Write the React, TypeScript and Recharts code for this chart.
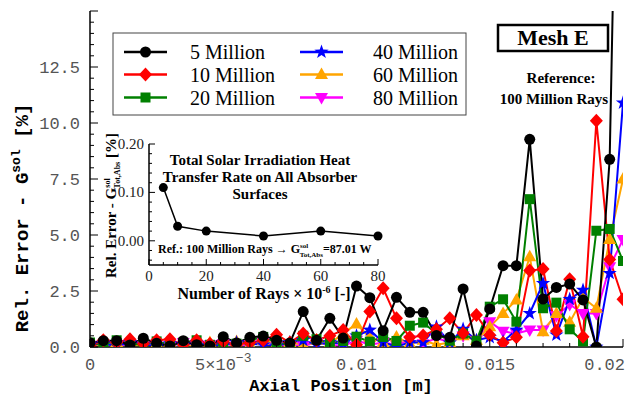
import React from "react";
import { LineChart, Line, XAxis, YAxis } from "recharts";

// axial positions of the sampled cells [m]
const axialPos = [
  0, 0.0005, 0.001, 0.0015, 0.002, 0.0025, 0.003, 0.0035, 0.004, 0.0045,
  0.005, 0.0055, 0.006, 0.0065, 0.007, 0.0075, 0.008, 0.0085, 0.009, 0.0095,
  0.01, 0.0105, 0.011, 0.0115, 0.012, 0.0125, 0.013, 0.0135, 0.014, 0.0145,
  0.015, 0.0155, 0.016, 0.0165, 0.017, 0.0175, 0.018, 0.0185, 0.019, 0.0195,
  0.02,
];

// relative error [%] per ray count
const err5M = [
  0.19, 0.28, 0.28, 0.09, 0.39, 0.17, 0.05, 0.28, 0.1, 0.05,
  0.46, 0.18, 0.43, 0.49, 0.3, 0.18, 1.58, 0.3, 1.28, 0.4,
  2.72, 2.2, 0.73, 2.22, 1.55, 1.55, 0.51, 0.43, 2.59, 0.04,
  1.7, 3.63, 3.63, 9.27, 2.14, 2.66, 2.81, 2.1, 0.0, 8.38,
  38,
];
const err10M = [
  0.05, 0.3, 0.2, 0.35, 0.15, 0.3, 0.35, 0.1, 0.3, 0.15,
  0.25, 0.1, 0.2, 0.3, 0.55, 0.2, 0.6, 0.3, 0.5, 0.76,
  0.1, 1.58, 2.62, 1.28, 0.43, 0.51, 0.79, 1.28, 0.61, 1.43,
  0.54, 0.19, 0.43, 3.41, 3.48, 0.71, 3.02, 0.46, 10.1, 3.91,
  2.13,
];
const err20M = [
  0.2, 0.1, 0.3, 0.15, 0.1, 0.25, 0.1, 0.2, 0.3, 0.1,
  0.2, 0.15, 0.3, 0.45, 0.2, 0.1, 0.5, 0.35, 0.2, 0.27,
  0.46, 0.24, 0.45, 0.27, 0.95, 1.09, 0.6, 0.28, 0.6, 0.28,
  1.8, 2.13, 1.13, 6.6, 1.73, 1.98, 0.79, 0.25, 5.19, 5.27,
  3.84,
];
const err40M = [
  0.1, 0.15, 0.05, 0.2, 0.1, 0.05, 0.15, 0.1, 0.2, 0.05,
  0.1, 0.2, 0.15, 0.1, 0.05, 0.2, 0.3, 0.1, 0.2, 0.15,
  0.5, 0.76, 0.2, 0.02, 0.2, 0.2, 0.9, 0.19, 0.8, 0.3,
  0.43, 0.25, 0.76, 1.5, 2.84, 0.54, 2.13, 2.54, 0.0, 3.29,
  10.9,
];
const err60M = [
  0.1, 0.05, 0.2, 0.1, 0.05, 0.15, 0.2, 0.1, 0.05, 0.2,
  0.1, 0.25, 0.1, 0.3, 0.15, 0.2, 0.1, 0.3, 0.15, 0.6,
  1.03, 0.43, 0.2, 0.45, 0.15, 0.3, 0.1, 0.2, 0.5, 0.3,
  0.9, 1.5, 2.1, 4.03, 0.68, 1.5, 1.1, 2.2, 1.73, 4.8,
  7.5,
];
const err80M = [
  0.05, 0.1, 0.05, 0.15, 0.05, 0.1, 0.05, 0.2, 0.05, 0.1,
  0.15, 0.05, 0.1, 0.2, 0.05, 0.1, 0.05, 0.2, 0.1, 0.05,
  0.3, 0.1, 0.2, 0.1, 0.3, 0.15, 0.4, 0.2, 0.5, 0.3,
  1.13, 0.7, 0.6, 0.76, 0.76, 1.4, 1.9, 1.5, 1.5, 3.58,
  4.8,
];

const seriesKeys = ["m5", "m10", "m20", "m40", "m60", "m80"];
const seriesNames = ["5 Million", "10 Million", "20 Million", "40 Million", "60 Million", "80 Million"];
const seriesColors = ["#000000", "#ff0000", "#008000", "#0000ff", "#ffa500", "#ff00ff"];
const seriesShapes = ["circle", "diamond", "square", "star", "triUp", "triDown"];

const xTicks = [
  0, 0.001, 0.002, 0.003, 0.004, 0.005, 0.006, 0.007, 0.008, 0.009, 0.01,
  0.011, 0.012, 0.013, 0.014, 0.015, 0.016, 0.017, 0.018, 0.019, 0.02,
];
const yTicks = [
  0, 0.5, 1, 1.5, 2, 2.5, 3, 3.5, 4, 4.5, 5, 5.5, 6, 6.5, 7, 7.5, 8, 8.5, 9, 9.5,
  10, 10.5, 11, 11.5, 12, 12.5, 13, 13.5, 14, 14.5, 15,
];
const xTickLabels: Record<string, string> = {
  "0": "0",
  "0.01": "0.01",
  "0.015": "0.015",
  "0.02": "0.02",
};
const yTickLabels: Record<string, string> = {
  "0": "0.0",
  "2.5": "2.5",
  "5": "5.0",
  "7.5": "7.5",
  "10": "10.0",
  "12.5": "12.5",
};

// inset: total heat transfer rate error vs ray count
const insetRays = [5, 10, 20, 40, 60, 80];
const insetErr = [0.11, 0.03, 0.02, 0.01, 0.02, 0.01];
const insetXTicks = [0, 5, 10, 15, 20, 25, 30, 35, 40, 45, 50, 55, 60, 65, 70, 75, 80];
const insetYTicks = [-0.04, -0.02, 0, 0.02, 0.04, 0.06, 0.08, 0.1, 0.12, 0.14, 0.16, 0.18, 0.2];

const rows = axialPos.map((x, i) => ({
  x,
  m5: err5M[i],
  m10: err10M[i],
  m20: err20M[i],
  m40: err40M[i],
  m60: err60M[i],
  m80: err80M[i],
}));
const insetRows = insetRays.map((n, i) => ({ n, err: insetErr[i] }));

const MONO = "'Liberation Mono', 'DejaVu Sans Mono', monospace";
const SERIF = "'Liberation Serif', 'DejaVu Serif', serif";
const TICK_FILL = "#555";

const starPts = (cx: number, cy: number, R: number, r: number) => {
  const pts: string[] = [];
  for (let i = 0; i < 10; i++) {
    const a = (-90 + i * 36) * (Math.PI / 180);
    const rad = i % 2 === 0 ? R : r;
    pts.push(`${cx + rad * Math.cos(a)},${cy + rad * Math.sin(a)}`);
  }
  return pts.join(" ");
};

const Marker = ({ shape, cx, cy, color }: any) => {
  if (cx == null || cy == null || isNaN(cx) || isNaN(cy)) return null;
  switch (shape) {
    case "circle":
      return <circle cx={cx} cy={cy} r={5.5} fill={color} />;
    case "diamond":
      return <polygon points={`${cx},${cy - 7} ${cx + 6.5},${cy} ${cx},${cy + 7} ${cx - 6.5},${cy}`} fill={color} />;
    case "square":
      return <rect x={cx - 5} y={cy - 5} width={10} height={10} fill={color} />;
    case "star":
      return <polygon points={starPts(cx, cy, 7.5, 3)} fill={color} />;
    case "triUp":
      return <polygon points={`${cx},${cy - 7} ${cx + 6.5},${cy + 4.5} ${cx - 6.5},${cy + 4.5}`} fill={color} />;
    case "triDown":
      return <polygon points={`${cx},${cy + 7} ${cx + 6.5},${cy - 4.5} ${cx - 6.5},${cy - 4.5}`} fill={color} />;
    default:
      return null;
  }
};

const isMult = (v: number, step: number) => Math.abs(v / step - Math.round(v / step)) < 1e-6;

// main chart ticks, drawn inward like a frame
const BottomTick = ({ x, y, payload }: any) => {
  const v = payload.value;
  const major = isMult(v, 0.005);
  let label: React.ReactNode = null;
  if (major) {
    if (Math.abs(v - 0.005) < 1e-9) {
      label = (
        <text x={x} y={y + 23} textAnchor="middle" fontFamily={MONO} fontSize={17} fill={TICK_FILL}>
          5×10<tspan dy={-8} fontSize={13}>−3</tspan>
        </text>
      );
    } else {
      const last = Math.abs(v - 0.02) < 1e-9;
      label = (
        <text x={last ? x + 2 : x} y={y + 23} textAnchor={last ? "end" : "middle"} fontFamily={MONO} fontSize={17} fill={TICK_FILL}>
          {xTickLabels[String(v)]}
        </text>
      );
    }
  }
  return (
    <g>
      <line x1={x} y1={y} x2={x} y2={y - (major ? 8 : 4)} stroke="#000" strokeWidth={1} />
      {label}
    </g>
  );
};
const TopTick = ({ x, y, payload }: any) => {
  const major = isMult(payload.value, 0.005);
  return <line x1={x} y1={y} x2={x} y2={y + (major ? 8 : 4)} stroke="#000" strokeWidth={1} />;
};
const LeftTick = ({ x, y, payload }: any) => {
  const v = payload.value;
  const major = isMult(v, 2.5);
  const txt = yTickLabels[String(v)];
  return (
    <g>
      <line x1={x} y1={y} x2={x + (major ? 8 : 4)} y2={y} stroke="#000" strokeWidth={1} />
      {major && txt && (
        <text x={x - 10} y={y + 6} textAnchor="end" fontFamily={MONO} fontSize={17} fill={TICK_FILL}>
          {txt}
        </text>
      )}
    </g>
  );
};
const RightTick = ({ x, y, payload }: any) => {
  const major = isMult(payload.value, 2.5);
  return <line x1={x} y1={y} x2={x - (major ? 8 : 4)} y2={y} stroke="#000" strokeWidth={1} />;
};

// inset ticks
const InsetBottomTick = ({ x, y, payload }: any) => {
  const v = payload.value;
  const major = isMult(v, 20);
  return (
    <g>
      <line x1={x} y1={y} x2={x} y2={y - (major ? 6 : 3)} stroke="#000" strokeWidth={1} />
      {major && (
        <text x={x} y={y + 16} textAnchor="middle" fontFamily={SERIF} fontSize={15} fill="#222">
          {v}
        </text>
      )}
    </g>
  );
};
const InsetTopTick = ({ x, y, payload }: any) => {
  const major = isMult(payload.value, 20);
  return <line x1={x} y1={y} x2={x} y2={y + (major ? 6 : 3)} stroke="#000" strokeWidth={1} />;
};
const InsetLeftTick = ({ x, y, payload }: any) => {
  const v = payload.value;
  const major = isMult(v, 0.1);
  return (
    <g>
      <line x1={x} y1={y} x2={x + (major ? 6 : 3)} y2={y} stroke="#000" strokeWidth={1} />
      {major && (
        <text x={x - 5} y={y + 5} textAnchor="end" fontFamily={SERIF} fontSize={15} fill="#222">
          {v.toFixed(2)}
        </text>
      )}
    </g>
  );
};
const InsetRightTick = ({ x, y, payload }: any) => {
  const major = isMult(payload.value, 0.1);
  return <line x1={x} y1={y} x2={x - (major ? 6 : 3)} y2={y} stroke="#000" strokeWidth={1} />;
};

const frame = { stroke: "#000", strokeWidth: 1.5 };

const LegendBox = () => {
  const rowsY = [52, 74.5, 97.5];
  return (
    <g>
      <rect x={113} y={33} width={353} height={82} fill="#fff" stroke="#444" strokeWidth={1} />
      {seriesNames.map((name, i) => {
        const col = i < 3 ? 0 : 1;
        const ry = rowsY[i % 3];
        const lx = col === 0 ? 124 : 300;
        const tx = col === 0 ? 190 : 373;
        return (
          <g key={name}>
            <line x1={lx} y1={ry} x2={lx + 43} y2={ry} stroke={seriesColors[i]} strokeWidth={2.5} />
            <Marker shape={seriesShapes[i]} cx={lx + 21.5} cy={ry} color={seriesColors[i]} />
            <text x={tx} y={ry + 7} style={{ fontFamily: SERIF }} fontSize={20} fill="#000">
              {name}
            </text>
          </g>
        );
      })}
    </g>
  );
};

export default function App() {
  return (
    <div style={{ position: "absolute", left: 0, top: 0, width: 631, height: 404, background: "#fff" }}>
      <div style={{ position: "absolute", left: 0, top: 0 }}>
        <LineChart width={631} height={404} data={rows} margin={{ top: 11, right: 8, left: 0, bottom: 0 }}>
          <XAxis
            dataKey="x"
            type="number"
            domain={[0, 0.02]}
            ticks={xTicks}
            interval={0}
            height={57}
            tickSize={0}
            tickMargin={0}
            tickLine={false}
            axisLine={frame}
            tick={(p: any) => <BottomTick {...p} />}
            allowDataOverflow
          />
          <XAxis
            xAxisId="top"
            orientation="top"
            dataKey="x"
            type="number"
            domain={[0, 0.02]}
            ticks={xTicks}
            interval={0}
            height={0}
            tickSize={0}
            tickMargin={0}
            tickLine={false}
            axisLine={frame}
            tick={(p: any) => <TopTick {...p} />}
            allowDataOverflow
          />
          <YAxis
            type="number"
            domain={[0, 15]}
            ticks={yTicks}
            interval={0}
            width={90}
            tickSize={0}
            tickMargin={0}
            tickLine={false}
            axisLine={frame}
            tick={(p: any) => <LeftTick {...p} />}
            allowDataOverflow
          />
          <YAxis
            yAxisId="right"
            orientation="right"
            type="number"
            domain={[0, 15]}
            ticks={yTicks}
            interval={0}
            width={0}
            tickSize={0}
            tickMargin={0}
            tickLine={false}
            axisLine={frame}
            tick={(p: any) => <RightTick {...p} />}
            allowDataOverflow
          />
          {seriesKeys
            .map((k, i) => (
              <Line
                key={k}
                dataKey={k}
                stroke={seriesColors[i]}
                strokeWidth={2}
                isAnimationActive={false}
                dot={(p: any) => (
                  <Marker key={`${k}-${p.index}`} shape={seriesShapes[i]} cx={p.cx} cy={p.cy} color={seriesColors[i]} />
                )}
                activeDot={false}
              />
            ))
            .reverse()}
        </LineChart>
      </div>

      <div style={{ position: "absolute", left: 90, top: 130 }}>
        <LineChart width={300} height={180} data={insetRows} margin={{ top: 14, right: 12, left: 0, bottom: 0 }}>
          <XAxis
            dataKey="n"
            type="number"
            domain={[0, 80]}
            ticks={insetXTicks}
            interval={0}
            height={45}
            tickSize={0}
            tickMargin={0}
            tickLine={false}
            axisLine={frame}
            tick={(p: any) => <InsetBottomTick {...p} />}
          />
          <XAxis
            xAxisId="top"
            orientation="top"
            dataKey="n"
            type="number"
            domain={[0, 80]}
            ticks={insetXTicks}
            interval={0}
            height={0}
            tickSize={0}
            tickMargin={0}
            tickLine={false}
            axisLine={frame}
            tick={(p: any) => <InsetTopTick {...p} />}
          />
          <YAxis
            type="number"
            domain={[-0.05, 0.2]}
            ticks={insetYTicks}
            interval={0}
            width={59}
            tickSize={0}
            tickMargin={0}
            tickLine={false}
            axisLine={frame}
            tick={(p: any) => <InsetLeftTick {...p} />}
          />
          <YAxis
            yAxisId="right"
            orientation="right"
            type="number"
            domain={[-0.05, 0.2]}
            ticks={insetYTicks}
            interval={0}
            width={0}
            tickSize={0}
            tickMargin={0}
            tickLine={false}
            axisLine={frame}
            tick={(p: any) => <InsetRightTick {...p} />}
          />
          <Line
            dataKey="err"
            stroke="#000"
            strokeWidth={1.5}
            isAnimationActive={false}
            dot={(p: any) => <circle key={`in-${p.index}`} cx={p.cx} cy={p.cy} r={4.5} fill="#000" />}
            activeDot={false}
          />
        </LineChart>
      </div>

      <svg width={631} height={404} style={{ position: "absolute", left: 0, top: 0, pointerEvents: "none" }}>
        {/* axis titles */}
        <text
          transform="translate(28,218) rotate(-90)"
          textAnchor="middle"
          fontFamily={MONO}
          fontWeight="bold"
          fontSize={19}
          fill="#000"
        >
          Rel. Error - G<tspan dy={-8} fontSize={13}>sol</tspan>
          <tspan dy={8}> [%]</tspan>
        </text>
        <text x={341} y={391} textAnchor="middle" fontFamily={MONO} fontWeight="bold" fontSize={17} fill="#000">
          Axial Position [m]
        </text>

        <LegendBox />

        <rect x={498} y={25} width={110} height={26} fill="#fff" stroke="#000" strokeWidth={2.5} />
        <text x={553} y={45} textAnchor="middle" fontFamily={SERIF} fontWeight="bold" fontSize={22} fill="#000">
          Mesh E
        </text>
        <text x={561} y={83} textAnchor="middle" fontFamily={SERIF} fontWeight="bold" fontSize={15} fill="#000">
          Reference:
        </text>
        <text x={554} y={104} textAnchor="middle" fontFamily={SERIF} fontWeight="bold" fontSize={15} fill="#000">
          100 Million Rays
        </text>

        {/* inset texts */}
        <g fontFamily={SERIF} fontWeight="bold" fill="#000">
          <text x={260} y={165} textAnchor="middle" fontSize={15}>
            Total Solar Irradiation Heat
          </text>
          <text x={260} y={182} textAnchor="middle" fontSize={15}>
            Transfer Rate on All Absorber
          </text>
          <text x={260} y={199} textAnchor="middle" fontSize={15}>
            Surfaces
          </text>
          <text x={158} y={253} fontSize={12}>
            Ref.: 100 Million Rays → G<tspan dy={-5} fontSize={7}>sol</tspan>
            <tspan dx={-8.5} dy={9} fontSize={7}>Tot,Abs</tspan>
            <tspan dy={-4}>=87.01 W</tspan>
          </text>
          <text x={264} y={299} textAnchor="middle" fontSize={16}>
            Number of Rays × 10<tspan dy={-6} fontSize={10}>-6</tspan>
            <tspan dy={6}> [-]</tspan>
          </text>
          <text transform="translate(116,204) rotate(-90)" x={-74} y={0} fontSize={15}>
            Rel. Error - G<tspan dy={-6} fontSize={8}>sol</tspan>
            <tspan dx={-10} dy={10} fontSize={8}>Tot,Abs</tspan>
            <tspan dy={-4}> [%]</tspan>
          </text>
        </g>
      </svg>
    </div>
  );
}
